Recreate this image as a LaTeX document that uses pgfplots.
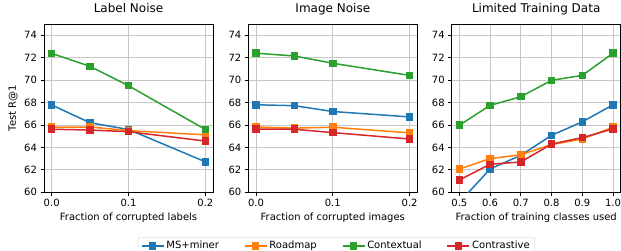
\documentclass[border=0pt]{standalone}
\usepackage{fontspec}
\setmainfont{DejaVu Sans}
\usepackage{pgfplots}
\pgfplotsset{compat=1.18}
\definecolor{tabblue}{HTML}{1F77B4}
\definecolor{taborange}{HTML}{FF7F0E}
\definecolor{tabgreen}{HTML}{2CA02C}
\definecolor{tabred}{HTML}{D62728}
\pgfplotsset{
  panel/.style={
    scale only axis, width=169pt, height=168.3pt,
    ymin=60, ymax=75, ytick={60,62,...,74},
    grid=major, grid style={color=black!22, line width=0.8pt},
    axis line style={line width=0.8pt},
    tick align=outside, major tick length=3.5pt,
    tick style={black, line width=0.8pt},
    xtick pos=bottom, ytick pos=left,
    /pgf/number format/assume math mode=true,
    ticklabel style={font=\fontsize{10}{12}\selectfont},
    label style={font=\fontsize{10}{12}\selectfont},
    title style={font=\fontsize{12}{14}\selectfont, anchor=base, at={(axis description cs:0.5,1.03)}},
    xlabel style={at={(axis description cs:0.5,-0.153)}, anchor=center},
    clip marker paths=true,
  },
  every axis plot/.append style={line width=1.5pt, mark=square*, mark size=3pt, mark options={solid}},
}
\begin{document}
\begin{tikzpicture}
\begin{axis}[panel, at={(44pt,57.7pt)}, anchor=south west,
  title={Label Noise}, xlabel={Fraction of corrupted labels}, ylabel={Test R@1},
  ylabel style={at={(axis description cs:-0.183,0.5)}, anchor=center},
  xmin=-0.01, xmax=0.21, xtick={0,0.1,0.2}, xticklabels={0.0,0.1,0.2},
  legend columns=4,
  legend style={at={(axis description cs:1.73,-0.266)}, anchor=north,
    draw=black!20, rounded corners=2pt, font=\fontsize{10}{12}\selectfont,
    /tikz/every even column/.append style={column sep=23pt}},
  legend image code/.code={\draw[mark repeat=2,mark phase=2] plot coordinates {(0pt,0pt)(11pt,0pt)(22pt,0pt)};},
]
\addplot[color=tabblue] coordinates {(0,67.78) (0.05,66.2) (0.1,65.6) (0.2,62.72)};
\addlegendentry{MS+miner}
\addplot[color=taborange] coordinates {(0,65.82) (0.05,65.82) (0.1,65.5) (0.2,65.12)};
\addlegendentry{Roadmap}
\addplot[color=tabgreen] coordinates {(0,72.38) (0.05,71.22) (0.1,69.5) (0.2,65.6)};
\addlegendentry{Contextual}
\addplot[color=tabred] coordinates {(0,65.62) (0.05,65.55) (0.1,65.4) (0.2,64.57)};
\addlegendentry{Contrastive}
\end{axis}
\begin{axis}[panel, at={(248.3pt,57.7pt)}, anchor=south west,
  title={Image Noise}, xlabel={Fraction of corrupted images},
  xmin=-0.01, xmax=0.21, xtick={0,0.1,0.2}, xticklabels={0.0,0.1,0.2},
]
\addplot[color=tabblue] coordinates {(0,67.8) (0.05,67.72) (0.1,67.2) (0.2,66.72)};
\addplot[color=taborange] coordinates {(0,65.82) (0.05,65.72) (0.1,65.8) (0.2,65.3)};
\addplot[color=tabgreen] coordinates {(0,72.4) (0.05,72.15) (0.1,71.5) (0.2,70.42)};
\addplot[color=tabred] coordinates {(0,65.62) (0.05,65.62) (0.1,65.32) (0.2,64.75)};
\end{axis}
\begin{axis}[panel, at={(451.7pt,57.7pt)}, anchor=south west,
  title={Limited Training Data}, xlabel={Fraction of training classes used},
  xmin=0.475, xmax=1.025, xtick={0.5,0.6,0.7,0.8,0.9,1.0},
  xticklabels={0.5,0.6,0.7,0.8,0.9,1.0},
]
\addplot[color=tabblue] coordinates {(0.5,59.1) (0.6,62.08) (0.7,63.3) (0.8,65.08) (0.9,66.28) (1.0,67.8)};
\addplot[color=taborange] coordinates {(0.5,62.08) (0.6,63.0) (0.7,63.35) (0.8,64.25) (0.9,64.75) (1.0,65.8)};
\addplot[color=tabgreen] coordinates {(0.5,65.98) (0.6,67.75) (0.7,68.52) (0.8,69.98) (0.9,70.42) (1.0,72.4)};
\addplot[color=tabred] coordinates {(0.5,61.1) (0.6,62.5) (0.7,62.7) (0.8,64.3) (0.9,64.88) (1.0,65.65)};
\end{axis}
\pgfresetboundingbox
\useasboundingbox (0,0) rectangle (621pt,250pt);
\end{tikzpicture}
\end{document}
